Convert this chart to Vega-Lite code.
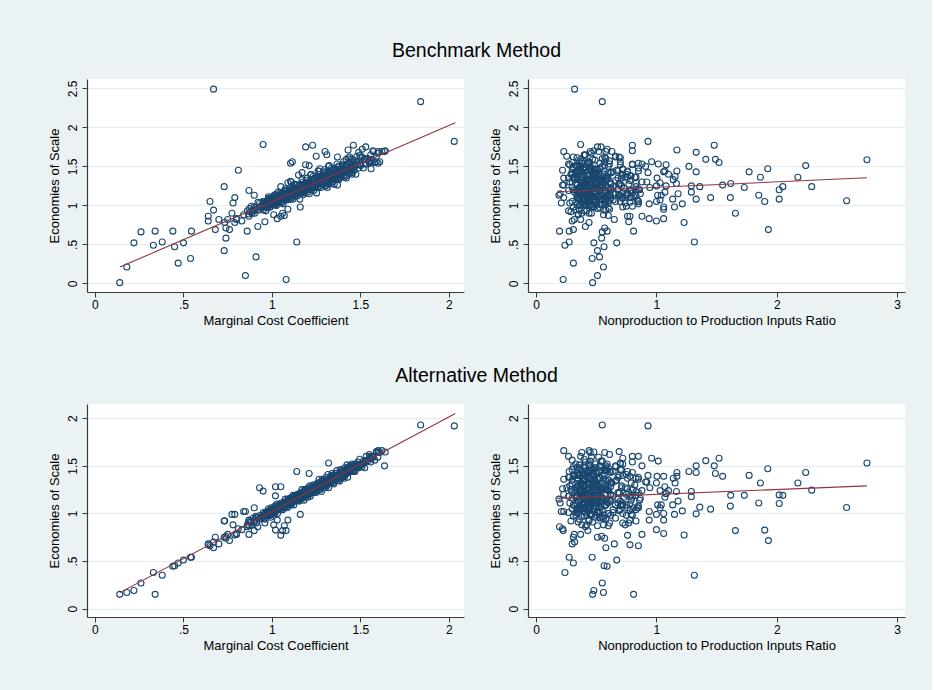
{
  "$schema": "https://vega.github.io/schema/vega-lite/v6.json",
  "background": "#eaf2f3",
  "padding": {"left": 48, "top": 40, "right": 27, "bottom": 42},
  "spacing": 38,
  "data": {
    "values": [
      {"mc":0.14,"r":0.47,"b":0.01,"a":0.15},
      {"mc":0.18,"r":0.56,"b":0.21,"a":0.17},
      {"mc":0.22,"r":0.48,"b":0.52,"a":0.19},
      {"mc":0.26,"r":0.55,"b":0.66,"a":0.27},
      {"mc":0.33,"r":0.24,"b":0.49,"a":0.38},
      {"mc":0.34,"r":0.81,"b":0.67,"a":0.15},
      {"mc":0.38,"r":1.315,"b":0.53,"a":0.35},
      {"mc":0.44,"r":0.59,"b":0.67,"a":0.445},
      {"mc":0.45,"r":0.565,"b":0.47,"a":0.45},
      {"mc":0.47,"r":0.31,"b":0.26,"a":0.48},
      {"mc":0.50,"r":0.67,"b":0.52,"a":0.51},
      {"mc":0.54,"r":0.466,"b":0.32,"a":0.54},
      {"mc":0.545,"r":0.275,"b":0.67,"a":0.54},
      {"mc":0.64,"r":0.78,"b":0.86,"a":0.67},
      {"mc":0.64,"r":0.30,"b":0.80,"a":0.68},
      {"mc":0.65,"r":0.85,"b":1.05,"a":0.66},
      {"mc":0.67,"r":0.58,"b":0.94,"a":0.64},
      {"mc":0.70,"r":0.65,"b":0.82,"a":0.68},
      {"mc":0.68,"r":0.31,"b":0.69,"a":0.75},
      {"mc":0.73,"r":0.83,"b":1.24,"a":0.92},
      {"mc":0.74,"r":0.57,"b":0.71,"a":0.74},
      {"mc":0.76,"r":1.93,"b":0.69,"a":0.715},
      {"mc":0.74,"r":0.545,"b":0.58,"a":0.76},
      {"mc":0.73,"r":0.51,"b":0.42,"a":0.75},
      {"mc":0.75,"r":0.317,"b":0.82,"a":0.78},
      {"mc":0.79,"r":1.23,"b":0.78,"a":0.774},
      {"mc":0.80,"r":0.37,"b":0.82,"a":0.78},
      {"mc":0.79,"r":0.79,"b":1.10,"a":0.99},
      {"mc":0.78,"r":0.74,"b":1.03,"a":0.88},
      {"mc":0.81,"r":0.22,"b":1.45,"a":0.84},
      {"mc":0.83,"r":1.0,"b":0.80,"a":0.83},
      {"mc":0.86,"r":0.195,"b":0.67,"a":0.86},
      {"mc":0.87,"r":0.78,"b":1.19,"a":0.93},
      {"mc":0.90,"r":0.43,"b":1.13,"a":0.82},
      {"mc":0.95,"r":0.37,"b":1.78,"a":1.235},
      {"mc":0.92,"r":0.41,"b":0.73,"a":0.86},
      {"mc":0.96,"r":0.77,"b":0.79,"a":0.90},
      {"mc":1.05,"r":0.76,"b":0.86,"a":0.77},
      {"mc":0.91,"r":0.527,"b":0.34,"a":0.96},
      {"mc":0.85,"r":0.51,"b":0.10,"a":1.02},
      {"mc":1.08,"r":0.225,"b":0.05,"a":0.82},
      {"mc":1.14,"r":0.275,"b":0.53,"a":1.44},
      {"mc":0.67,"r":0.32,"b":2.49,"a":0.70},
      {"mc":1.84,"r":0.55,"b":2.33,"a":1.93},
      {"mc":2.03,"r":0.93,"b":1.82,"a":1.92},
      {"mc":0.93,"r":0.60,"b":1.03,"a":1.27},
      {"mc":1.07,"r":0.60,"b":0.87,"a":0.87},
      {"mc":1.09,"r":1.06,"b":0.95,"a":0.93},
      {"mc":1.16,"r":1.15,"b":0.98,"a":0.99},
      {"mc":1.06,"r":1.656,"b":0.90,"a":0.82},
      {"mc":1.02,"r":1.90,"b":1.05,"a":0.825},
      {"mc":1.03,"r":0.94,"b":0.83,"a":0.93},
      {"mc":0.87,"r":0.88,"b":0.86,"a":0.78},
      {"mc":1.01,"r":0.56,"b":0.88,"a":0.88},
      {"mc":1.32,"r":0.70,"b":1.27,"a":1.53},
      {"mc":1.21,"r":0.47,"b":1.26,"a":1.42},
      {"mc":1.02,"r":0.45,"b":1.13,"a":1.185},
      {"mc":1.02,"r":0.52,"b":1.14,"a":1.28},
      {"mc":1.05,"r":0.62,"b":1.12,"a":1.28},
      {"mc":0.90,"r":0.40,"b":0.93,"a":1.06},
      {"mc":0.84,"r":0.35,"b":0.88,"a":1.02},
      {"mc":0.774,"r":0.46,"b":0.90,"a":0.99},
      {"mc":0.733,"r":0.44,"b":0.78,"a":0.922},
      {"mc":1.52,"r":2.749,"b":1.585,"a":1.53},
      {"mc":1.04,"r":2.58,"b":1.06,"a":1.063},
      {"mc":1.22,"r":2.29,"b":1.24,"a":1.245},
      {"mc":1.42,"r":2.24,"b":1.51,"a":1.43},
      {"mc":1.31,"r":2.175,"b":1.36,"a":1.32},
      {"mc":1.17,"r":2.05,"b":1.24,"a":1.19},
      {"mc":1.18,"r":2.02,"b":1.20,"a":1.195},
      {"mc":1.09,"r":2.02,"b":1.08,"a":1.105},
      {"mc":1.45,"r":1.925,"b":1.47,"a":1.47},
      {"mc":1.30,"r":1.864,"b":1.36,"a":1.32},
      {"mc":1.10,"r":1.85,"b":1.13,"a":1.11},
      {"mc":1.38,"r":1.77,"b":1.43,"a":1.40},
      {"mc":1.18,"r":1.73,"b":1.23,"a":1.19},
      {"mc":1.19,"r":1.617,"b":1.28,"a":1.19},
      {"mc":1.06,"r":1.614,"b":1.10,"a":1.077},
      {"mc":1.37,"r":1.55,"b":1.26,"a":1.39},
      {"mc":1.56,"r":1.52,"b":1.55,"a":1.58},
      {"mc":1.42,"r":1.49,"b":1.59,"a":1.42},
      {"mc":1.46,"r":1.48,"b":1.77,"a":1.50},
      {"mc":1.03,"r":1.45,"b":1.10,"a":1.045},
      {"mc":1.53,"r":1.41,"b":1.59,"a":1.555},
      {"mc":1.05,"r":1.36,"b":1.24,"a":1.066},
      {"mc":1.49,"r":1.33,"b":1.68,"a":1.50},
      {"mc":1.41,"r":1.33,"b":1.43,"a":1.43},
      {"mc":0.99,"r":1.33,"b":1.08,"a":0.996},
      {"mc":1.21,"r":1.29,"b":1.25,"a":1.23},
      {"mc":1.16,"r":1.29,"b":1.17,"a":1.175},
      {"mc":1.42,"r":1.27,"b":1.50,"a":1.44},
      {"mc":1.01,"r":1.215,"b":1.02,"a":1.027},
      {"mc":1.11,"r":1.18,"b":1.15,"a":1.13},
      {"mc":1.43,"r":1.17,"b":1.71,"a":1.43},
      {"mc":1.37,"r":1.17,"b":1.44,"a":1.39},
      {"mc":1.21,"r":1.166,"b":1.28,"a":1.23},
      {"mc":1.07,"r":1.135,"b":1.08,"a":1.09},
      {"mc":1.30,"r":1.155,"b":1.37,"a":1.32},
      {"mc":1.35,"r":1.14,"b":1.33,"a":1.37},
      {"mc":1.22,"r":1.10,"b":1.40,"a":1.24},
      {"mc":1.19,"r":1.08,"b":1.52,"a":1.21},
      {"mc":1.19,"r":1.08,"b":1.25,"a":1.21},
      {"mc":1.26,"r":1.07,"b":1.44,"a":1.28},
      {"mc":1.15,"r":1.07,"b":1.17,"a":1.17},
      {"mc":1.38,"r":1.06,"b":1.43,"a":1.39},
      {"mc":0.99,"r":1.06,"b":0.98,"a":1.0},
      {"mc":0.80,"r":1.06,"b":0.83,"a":0.79},
      {"mc":1.08,"r":1.04,"b":1.13,"a":1.09},
      {"mc":1.04,"r":1.03,"b":1.07,"a":1.06},
      {"mc":1.22,"r":1.03,"b":1.29,"a":1.24},
      {"mc":1.53,"r":1.015,"b":1.53,"a":1.55},
      {"mc":1.37,"r":1.005,"b":1.35,"a":1.39},
      {"mc":0.98,"r":1.0,"b":1.05,"a":0.99},
      {"mc":1.30,"r":1.0,"b":1.25,"a":1.32},
      {"mc":1.08,"r":1.01,"b":1.13,"a":1.09},
      {"mc":1.55,"r":0.96,"b":1.56,"a":1.58},
      {"mc":1.0,"r":0.94,"b":1.02,"a":1.02},
      {"mc":1.25,"r":0.945,"b":1.23,"a":1.27},
      {"mc":1.38,"r":0.93,"b":1.42,"a":1.40},
      {"mc":1.32,"r":0.91,"b":1.50,"a":1.33},
      {"mc":1.31,"r":0.92,"b":1.30,"a":1.33},
      {"mc":1.50,"r":0.88,"b":1.53,"a":1.50},
      {"mc":1.14,"r":0.866,"b":1.15,"a":1.16},
      {"mc":1.06,"r":0.85,"b":1.05,"a":1.08},
      {"mc":1.19,"r":0.51,"b":1.75,"a":1.22},
      {"mc":1.23,"r":0.80,"b":1.77,"a":1.25},
      {"mc":1.53,"r":0.54,"b":1.75,"a":1.55},
      {"mc":1.51,"r":0.59,"b":1.72,"a":1.52},
      {"mc":1.30,"r":0.63,"b":1.69,"a":1.32},
      {"mc":1.57,"r":0.80,"b":1.70,"a":1.60},
      {"mc":1.60,"r":0.45,"b":1.69,"a":1.64},
      {"mc":1.31,"r":0.40,"b":1.65,"a":1.35},
      {"mc":1.25,"r":0.255,"b":1.63,"a":1.27},
      {"mc":1.37,"r":0.31,"b":1.62,"a":1.40},
      {"mc":1.48,"r":0.66,"b":1.63,"a":1.50},
      {"mc":1.50,"r":0.70,"b":1.61,"a":1.52},
      {"mc":1.115,"r":0.70,"b":1.56,"a":1.13},
      {"mc":1.105,"r":0.53,"b":1.54,"a":1.12},
      {"mc":1.64,"r":0.48,"b":1.70,"a":1.645},
      {"mc":1.636,"r":0.58,"b":1.69,"a":1.50},
      {"mc":1.55,"r":0.61,"b":1.57,"a":1.62},
      {"mc":1.56,"r":0.72,"b":1.47,"a":1.58},
      {"mc":1.60,"r":0.44,"b":1.54,"a":1.66},
      {"mc":1.59,"r":0.38,"b":1.56,"a":1.64},
      {"mc":1.44,"r":0.57,"b":1.62,"a":1.46},
      {"mc":1.21,"r":0.36,"b":1.51,"a":1.24},
      {"mc":1.27,"r":0.49,"b":1.47,"a":1.30},
      {"mc":1.17,"r":0.62,"b":1.42,"a":1.20},
      {"mc":1.15,"r":0.33,"b":1.39,"a":1.17},
      {"mc":1.105,"r":0.46,"b":1.31,"a":1.13},
      {"mc":1.09,"r":0.39,"b":1.29,"a":1.11},
      {"mc":1.11,"r":0.55,"b":1.30,"a":1.14},
      {"mc":0.861,"r":0.42,"b":0.93,"a":0.88},
      {"mc":0.868,"r":0.35,"b":0.89,"a":0.91},
      {"mc":0.872,"r":0.51,"b":0.96,"a":0.87},
      {"mc":0.879,"r":0.29,"b":0.92,"a":0.92},
      {"mc":0.884,"r":0.47,"b":0.99,"a":0.91},
      {"mc":0.887,"r":0.38,"b":0.90,"a":0.88},
      {"mc":0.893,"r":0.56,"b":0.94,"a":0.95},
      {"mc":0.898,"r":0.72,"b":0.98,"a":0.90},
      {"mc":0.902,"r":0.44,"b":0.90,"a":0.93},
      {"mc":0.909,"r":0.31,"b":0.98,"a":0.97},
      {"mc":0.913,"r":0.61,"b":0.95,"a":0.90},
      {"mc":0.921,"r":0.49,"b":1.04,"a":0.96},
      {"mc":0.926,"r":0.36,"b":0.94,"a":0.94},
      {"mc":0.934,"r":0.80,"b":0.99,"a":0.98},
      {"mc":0.941,"r":0.53,"b":0.97,"a":0.95},
      {"mc":0.948,"r":0.40,"b":1.05,"a":0.97},
      {"mc":0.952,"r":0.33,"b":0.94,"a":1.01},
      {"mc":0.955,"r":0.66,"b":1.05,"a":0.95},
      {"mc":0.959,"r":0.45,"b":1.00,"a":0.99},
      {"mc":0.963,"r":0.58,"b":1.03,"a":0.94},
      {"mc":0.966,"r":0.27,"b":0.93,"a":1.01},
      {"mc":0.970,"r":0.50,"b":1.05,"a":0.98},
      {"mc":0.973,"r":0.39,"b":1.02,"a":1.02},
      {"mc":0.977,"r":0.75,"b":0.99,"a":0.98},
      {"mc":0.980,"r":0.43,"b":1.11,"a":1.05},
      {"mc":0.984,"r":0.34,"b":1.01,"a":1.01},
      {"mc":0.987,"r":0.62,"b":1.09,"a":0.98},
      {"mc":0.990,"r":0.48,"b":0.98,"a":1.02},
      {"mc":0.993,"r":0.55,"b":1.07,"a":0.96},
      {"mc":0.996,"r":0.85,"b":1.02,"a":1.06},
      {"mc":0.999,"r":0.41,"b":1.07,"a":1.01},
      {"mc":1.002,"r":0.37,"b":1.01,"a":1.05},
      {"mc":1.005,"r":0.52,"b":1.11,"a":1.00},
      {"mc":1.008,"r":0.30,"b":1.05,"a":1.05},
      {"mc":1.012,"r":0.69,"b":1.13,"a":1.03},
      {"mc":1.015,"r":0.46,"b":1.01,"a":1.00},
      {"mc":1.018,"r":0.57,"b":1.07,"a":1.08},
      {"mc":1.021,"r":0.23,"b":1.10,"a":1.02},
      {"mc":1.025,"r":0.44,"b":1.00,"a":1.06},
      {"mc":1.028,"r":0.78,"b":1.10,"a":1.10},
      {"mc":1.031,"r":0.60,"b":1.06,"a":1.00},
      {"mc":1.035,"r":0.32,"b":1.17,"a":1.08},
      {"mc":1.038,"r":0.48,"b":1.04,"a":1.05},
      {"mc":1.041,"r":0.71,"b":1.10,"a":1.09},
      {"mc":1.045,"r":0.39,"b":1.07,"a":1.05},
      {"mc":1.048,"r":0.54,"b":1.16,"a":1.07},
      {"mc":1.051,"r":0.28,"b":1.03,"a":1.11},
      {"mc":1.054,"r":0.64,"b":1.15,"a":1.04},
      {"mc":1.057,"r":0.43,"b":1.09,"a":1.09},
      {"mc":1.060,"r":0.83,"b":1.13,"a":1.04},
      {"mc":1.063,"r":0.50,"b":1.02,"a":1.10},
      {"mc":1.066,"r":0.36,"b":1.15,"a":1.08},
      {"mc":1.069,"r":0.59,"b":1.12,"a":1.12},
      {"mc":1.072,"r":0.45,"b":1.08,"a":1.07},
      {"mc":1.075,"r":0.68,"b":1.21,"a":1.15},
      {"mc":1.078,"r":0.34,"b":1.10,"a":1.10},
      {"mc":1.081,"r":0.52,"b":1.19,"a":1.07},
      {"mc":1.084,"r":0.40,"b":1.07,"a":1.11},
      {"mc":1.087,"r":0.76,"b":1.16,"a":1.06},
      {"mc":1.090,"r":0.47,"b":1.11,"a":1.15},
      {"mc":1.093,"r":0.72,"b":1.16,"a":1.10},
      {"mc":1.096,"r":0.44,"b":1.10,"a":1.15},
      {"mc":1.099,"r":0.31,"b":1.20,"a":1.09},
      {"mc":1.102,"r":0.61,"b":1.14,"a":1.14},
      {"mc":1.105,"r":0.49,"b":1.23,"a":1.13},
      {"mc":1.108,"r":0.36,"b":1.09,"a":1.09},
      {"mc":1.111,"r":0.80,"b":1.16,"a":1.17},
      {"mc":1.114,"r":0.53,"b":1.20,"a":1.11},
      {"mc":1.117,"r":0.40,"b":1.08,"a":1.15},
      {"mc":1.120,"r":0.33,"b":1.20,"a":1.19},
      {"mc":1.123,"r":0.66,"b":1.15,"a":1.09},
      {"mc":1.126,"r":0.45,"b":1.27,"a":1.17},
      {"mc":1.129,"r":0.58,"b":1.12,"a":1.14},
      {"mc":1.132,"r":0.27,"b":1.19,"a":1.18},
      {"mc":1.136,"r":0.50,"b":1.15,"a":1.14},
      {"mc":1.140,"r":0.39,"b":1.26,"a":1.16},
      {"mc":1.144,"r":0.75,"b":1.12,"a":1.20},
      {"mc":1.148,"r":0.43,"b":1.24,"a":1.14},
      {"mc":1.151,"r":0.34,"b":1.18,"a":1.18},
      {"mc":1.154,"r":0.62,"b":1.22,"a":1.13},
      {"mc":1.157,"r":0.48,"b":1.08,"a":1.20},
      {"mc":1.160,"r":0.55,"b":1.26,"a":1.17},
      {"mc":1.163,"r":0.85,"b":1.21,"a":1.22},
      {"mc":1.166,"r":0.41,"b":1.16,"a":1.16},
      {"mc":1.169,"r":0.37,"b":1.33,"a":1.25},
      {"mc":1.172,"r":0.52,"b":1.19,"a":1.19},
      {"mc":1.175,"r":0.30,"b":1.30,"a":1.16},
      {"mc":1.178,"r":0.69,"b":1.14,"a":1.21},
      {"mc":1.181,"r":0.46,"b":1.26,"a":1.14},
      {"mc":1.184,"r":0.57,"b":1.19,"a":1.25},
      {"mc":1.187,"r":0.23,"b":1.26,"a":1.20},
      {"mc":1.190,"r":0.44,"b":1.18,"a":1.25},
      {"mc":1.193,"r":0.78,"b":1.32,"a":1.18},
      {"mc":1.196,"r":0.60,"b":1.23,"a":1.24},
      {"mc":1.199,"r":0.32,"b":1.35,"a":1.22},
      {"mc":1.202,"r":0.48,"b":1.17,"a":1.17},
      {"mc":1.205,"r":0.71,"b":1.25,"a":1.27},
      {"mc":1.208,"r":0.39,"b":1.30,"a":1.20},
      {"mc":1.211,"r":0.54,"b":1.15,"a":1.24},
      {"mc":1.214,"r":0.28,"b":1.30,"a":1.29},
      {"mc":1.217,"r":0.64,"b":1.24,"a":1.18},
      {"mc":1.220,"r":0.43,"b":1.39,"a":1.26},
      {"mc":1.223,"r":0.83,"b":1.20,"a":1.23},
      {"mc":1.226,"r":0.50,"b":1.28,"a":1.28},
      {"mc":1.229,"r":0.36,"b":1.23,"a":1.23},
      {"mc":1.232,"r":0.59,"b":1.37,"a":1.25},
      {"mc":1.236,"r":0.45,"b":1.19,"a":1.30},
      {"mc":1.240,"r":0.68,"b":1.35,"a":1.22},
      {"mc":1.244,"r":0.34,"b":1.28,"a":1.28},
      {"mc":1.248,"r":0.52,"b":1.32,"a":1.22},
      {"mc":1.252,"r":0.40,"b":1.16,"a":1.30},
      {"mc":1.255,"r":0.76,"b":1.36,"a":1.26},
      {"mc":1.259,"r":0.47,"b":1.30,"a":1.32},
      {"mc":1.262,"r":0.42,"b":1.24,"a":1.25},
      {"mc":1.266,"r":0.35,"b":1.44,"a":1.36},
      {"mc":1.269,"r":0.51,"b":1.28,"a":1.29},
      {"mc":1.272,"r":0.29,"b":1.40,"a":1.25},
      {"mc":1.276,"r":0.47,"b":1.23,"a":1.31},
      {"mc":1.279,"r":0.38,"b":1.37,"a":1.23},
      {"mc":1.283,"r":0.56,"b":1.28,"a":1.36},
      {"mc":1.286,"r":0.53,"b":1.36,"a":1.29},
      {"mc":1.289,"r":0.40,"b":1.27,"a":1.35},
      {"mc":1.293,"r":0.33,"b":1.42,"a":1.27},
      {"mc":1.296,"r":0.66,"b":1.32,"a":1.34},
      {"mc":1.300,"r":0.45,"b":1.46,"a":1.32},
      {"mc":1.303,"r":0.58,"b":1.25,"a":1.27},
      {"mc":1.306,"r":0.27,"b":1.35,"a":1.38},
      {"mc":1.310,"r":0.50,"b":1.41,"a":1.30},
      {"mc":1.313,"r":0.39,"b":1.23,"a":1.35},
      {"mc":1.316,"r":0.75,"b":1.40,"a":1.41},
      {"mc":1.320,"r":0.43,"b":1.33,"a":1.27},
      {"mc":1.323,"r":0.34,"b":1.51,"a":1.37},
      {"mc":1.327,"r":0.62,"b":1.29,"a":1.33},
      {"mc":1.330,"r":0.48,"b":1.39,"a":1.39},
      {"mc":1.333,"r":0.55,"b":1.33,"a":1.32},
      {"mc":1.337,"r":0.85,"b":1.48,"a":1.36},
      {"mc":1.340,"r":0.41,"b":1.28,"a":1.42},
      {"mc":1.343,"r":0.37,"b":1.46,"a":1.32},
      {"mc":1.346,"r":0.52,"b":1.37,"a":1.38},
      {"mc":1.349,"r":0.30,"b":1.42,"a":1.31},
      {"mc":1.352,"r":0.69,"b":1.27,"a":1.40},
      {"mc":1.356,"r":0.46,"b":1.45,"a":1.36},
      {"mc":1.360,"r":0.57,"b":1.40,"a":1.42},
      {"mc":1.363,"r":0.23,"b":1.35,"a":1.36},
      {"mc":1.367,"r":0.44,"b":1.53,"a":1.45},
      {"mc":1.371,"r":0.78,"b":1.38,"a":1.39},
      {"mc":1.375,"r":0.60,"b":1.50,"a":1.35},
      {"mc":1.378,"r":0.32,"b":1.33,"a":1.41},
      {"mc":1.382,"r":0.48,"b":1.46,"a":1.34},
      {"mc":1.386,"r":0.71,"b":1.38,"a":1.46},
      {"mc":1.390,"r":0.39,"b":1.46,"a":1.40},
      {"mc":1.393,"r":0.54,"b":1.38,"a":1.45},
      {"mc":1.397,"r":0.28,"b":1.52,"a":1.38},
      {"mc":1.401,"r":0.64,"b":1.43,"a":1.44},
      {"mc":1.405,"r":0.43,"b":1.56,"a":1.42},
      {"mc":1.408,"r":0.83,"b":1.36,"a":1.37},
      {"mc":1.412,"r":0.50,"b":1.45,"a":1.48},
      {"mc":1.416,"r":0.36,"b":1.51,"a":1.41},
      {"mc":1.420,"r":0.59,"b":1.35,"a":1.45},
      {"mc":1.424,"r":0.45,"b":1.50,"a":1.51},
      {"mc":1.428,"r":0.68,"b":1.44,"a":1.38},
      {"mc":1.432,"r":0.34,"b":1.61,"a":1.48},
      {"mc":1.436,"r":0.52,"b":1.41,"a":1.44},
      {"mc":1.440,"r":0.40,"b":1.49,"a":1.50},
      {"mc":1.444,"r":0.76,"b":1.44,"a":1.44},
      {"mc":1.448,"r":0.47,"b":1.59,"a":1.47},
      {"mc":1.452,"r":0.72,"b":1.40,"a":1.52},
      {"mc":1.458,"r":0.44,"b":1.55,"a":1.44},
      {"mc":1.463,"r":0.31,"b":1.49,"a":1.49},
      {"mc":1.468,"r":0.61,"b":1.53,"a":1.44},
      {"mc":1.474,"r":0.49,"b":1.40,"a":1.52},
      {"mc":1.479,"r":0.36,"b":1.56,"a":1.48},
      {"mc":1.485,"r":0.80,"b":1.52,"a":1.54},
      {"mc":1.490,"r":0.53,"b":1.48,"a":1.48},
      {"mc":1.496,"r":0.40,"b":1.64,"a":1.57},
      {"mc":1.502,"r":0.33,"b":1.51,"a":1.52},
      {"mc":1.509,"r":0.66,"b":1.62,"a":1.49},
      {"mc":1.516,"r":0.45,"b":1.48,"a":1.55},
      {"mc":1.524,"r":0.58,"b":1.60,"a":1.48},
      {"mc":1.533,"r":0.27,"b":1.53,"a":1.60},
      {"mc":1.542,"r":0.55,"b":1.60,"a":1.55},
      {"mc":1.551,"r":0.85,"b":1.54,"a":1.60},
      {"mc":1.558,"r":0.41,"b":1.65,"a":1.54},
      {"mc":1.566,"r":0.37,"b":1.59,"a":1.60},
      {"mc":1.573,"r":0.52,"b":1.69,"a":1.59},
      {"mc":1.581,"r":0.30,"b":1.55,"a":1.56},
      {"mc":1.590,"r":0.69,"b":1.62,"a":1.65},
      {"mc":1.598,"r":0.46,"b":1.67,"a":1.59},
      {"mc":1.609,"r":0.57,"b":1.56,"a":1.64},
      {"mc":1.621,"r":0.23,"b":1.69,"a":1.66},
      {"mc":0.957,"r":0.46,"b":0.98,"a":0.99},
      {"mc":0.961,"r":0.38,"b":1.05,"a":0.97},
      {"mc":0.965,"r":0.53,"b":1.01,"a":1.01},
      {"mc":0.969,"r":0.33,"b":1.04,"a":0.98},
      {"mc":0.973,"r":0.60,"b":0.97,"a":1.00},
      {"mc":0.977,"r":0.42,"b":1.04,"a":0.98},
      {"mc":0.981,"r":0.72,"b":1.09,"a":1.00},
      {"mc":0.985,"r":0.36,"b":1.00,"a":1.03},
      {"mc":0.989,"r":0.57,"b":1.04,"a":0.98},
      {"mc":0.993,"r":0.44,"b":1.07,"a":1.03},
      {"mc":0.997,"r":0.21,"b":1.03,"a":1.02},
      {"mc":1.001,"r":0.51,"b":1.10,"a":1.01},
      {"mc":1.005,"r":0.40,"b":1.01,"a":1.05},
      {"mc":1.009,"r":0.64,"b":1.07,"a":1.01},
      {"mc":1.013,"r":0.78,"b":1.04,"a":1.03},
      {"mc":1.017,"r":0.35,"b":1.09,"a":1.05},
      {"mc":1.021,"r":0.55,"b":1.01,"a":1.04},
      {"mc":1.025,"r":0.43,"b":1.09,"a":1.07},
      {"mc":1.029,"r":0.70,"b":1.12,"a":1.04},
      {"mc":1.033,"r":0.84,"b":1.07,"a":1.06},
      {"mc":1.037,"r":0.50,"b":1.06,"a":1.07},
      {"mc":1.041,"r":0.34,"b":1.13,"a":1.05},
      {"mc":1.045,"r":0.58,"b":1.08,"a":1.09},
      {"mc":1.049,"r":0.45,"b":1.12,"a":1.06},
      {"mc":1.053,"r":0.70,"b":1.05,"a":1.08},
      {"mc":1.057,"r":0.37,"b":1.12,"a":1.06},
      {"mc":1.061,"r":0.48,"b":1.16,"a":1.08},
      {"mc":1.065,"r":0.41,"b":1.08,"a":1.11},
      {"mc":1.069,"r":0.81,"b":1.12,"a":1.06},
      {"mc":1.073,"r":0.20,"b":1.15,"a":1.11},
      {"mc":1.077,"r":0.46,"b":1.11,"a":1.10},
      {"mc":1.081,"r":0.38,"b":1.18,"a":1.09},
      {"mc":1.085,"r":0.53,"b":1.09,"a":1.13},
      {"mc":1.089,"r":0.75,"b":1.14,"a":1.09},
      {"mc":1.093,"r":0.60,"b":1.12,"a":1.11},
      {"mc":1.097,"r":0.42,"b":1.17,"a":1.13},
      {"mc":1.101,"r":0.49,"b":1.08,"a":1.11},
      {"mc":1.105,"r":0.36,"b":1.17,"a":1.16},
      {"mc":1.109,"r":0.68,"b":1.20,"a":1.11},
      {"mc":1.113,"r":0.44,"b":1.15,"a":1.14},
      {"mc":1.117,"r":0.19,"b":1.13,"a":1.15},
      {"mc":1.121,"r":0.51,"b":1.22,"a":1.13},
      {"mc":1.125,"r":0.40,"b":1.16,"a":1.18},
      {"mc":1.129,"r":0.86,"b":1.20,"a":1.14},
      {"mc":1.133,"r":0.47,"b":1.12,"a":1.16},
      {"mc":1.137,"r":0.35,"b":1.20,"a":1.13},
      {"mc":1.141,"r":0.55,"b":1.26,"a":1.16},
      {"mc":1.145,"r":0.43,"b":1.15,"a":1.19},
      {"mc":1.149,"r":0.79,"b":1.19,"a":1.14},
      {"mc":1.153,"r":0.39,"b":1.24,"a":1.19},
      {"mc":1.157,"r":0.50,"b":1.18,"a":1.19},
      {"mc":1.161,"r":0.34,"b":1.27,"a":1.17},
      {"mc":1.165,"r":0.58,"b":1.16,"a":1.21},
      {"mc":1.169,"r":0.73,"b":1.22,"a":1.17},
      {"mc":1.173,"r":0.62,"b":1.19,"a":1.19},
      {"mc":1.177,"r":0.37,"b":1.25,"a":1.21},
      {"mc":1.181,"r":0.48,"b":1.16,"a":1.19},
      {"mc":1.185,"r":0.41,"b":1.25,"a":1.24},
      {"mc":1.189,"r":0.83,"b":1.28,"a":1.19},
      {"mc":1.193,"r":0.30,"b":1.23,"a":1.22},
      {"mc":1.197,"r":0.46,"b":1.21,"a":1.23},
      {"mc":1.201,"r":0.38,"b":1.29,"a":1.21},
      {"mc":1.205,"r":0.53,"b":1.24,"a":1.26},
      {"mc":1.209,"r":0.69,"b":1.28,"a":1.22},
      {"mc":1.213,"r":0.60,"b":1.20,"a":1.24},
      {"mc":1.217,"r":0.42,"b":1.28,"a":1.21},
      {"mc":1.221,"r":0.49,"b":1.33,"a":1.24},
      {"mc":1.225,"r":0.36,"b":1.23,"a":1.27},
      {"mc":1.229,"r":0.77,"b":1.27,"a":1.22},
      {"mc":1.233,"r":0.44,"b":1.32,"a":1.27},
      {"mc":1.237,"r":0.22,"b":1.26,"a":1.26},
      {"mc":1.241,"r":0.51,"b":1.34,"a":1.24},
      {"mc":1.245,"r":0.40,"b":1.24,"a":1.29},
      {"mc":1.249,"r":0.88,"b":1.30,"a":1.24},
      {"mc":1.253,"r":0.47,"b":1.27,"a":1.27},
      {"mc":1.257,"r":0.35,"b":1.33,"a":1.29},
      {"mc":1.261,"r":0.55,"b":1.23,"a":1.27},
      {"mc":1.265,"r":0.43,"b":1.33,"a":1.32},
      {"mc":1.269,"r":0.74,"b":1.36,"a":1.27},
      {"mc":1.273,"r":0.39,"b":1.30,"a":1.30},
      {"mc":1.277,"r":0.50,"b":1.29,"a":1.31},
      {"mc":1.281,"r":0.34,"b":1.37,"a":1.28},
      {"mc":1.285,"r":0.58,"b":1.32,"a":1.34},
      {"mc":1.289,"r":0.82,"b":1.36,"a":1.30},
      {"mc":1.293,"r":0.62,"b":1.27,"a":1.32},
      {"mc":1.297,"r":0.37,"b":1.36,"a":1.29},
      {"mc":1.301,"r":0.48,"b":1.43,"a":1.32},
      {"mc":1.305,"r":0.41,"b":1.30,"a":1.35},
      {"mc":1.309,"r":0.71,"b":1.35,"a":1.29},
      {"mc":1.313,"r":0.30,"b":1.40,"a":1.35},
      {"mc":1.317,"r":0.46,"b":1.33,"a":1.35},
      {"mc":1.321,"r":0.38,"b":1.43,"a":1.32},
      {"mc":1.325,"r":0.53,"b":1.31,"a":1.37},
      {"mc":1.329,"r":0.79,"b":1.38,"a":1.32},
      {"mc":1.333,"r":0.60,"b":1.34,"a":1.35},
      {"mc":1.337,"r":0.42,"b":1.41,"a":1.38},
      {"mc":1.341,"r":0.49,"b":1.30,"a":1.35},
      {"mc":1.345,"r":0.36,"b":1.41,"a":1.40},
      {"mc":1.349,"r":0.67,"b":1.45,"a":1.35},
      {"mc":1.353,"r":0.44,"b":1.38,"a":1.38},
      {"mc":1.357,"r":0.31,"b":1.36,"a":1.39},
      {"mc":1.361,"r":0.51,"b":1.46,"a":1.36},
      {"mc":1.365,"r":0.40,"b":1.39,"a":1.42},
      {"mc":1.369,"r":0.85,"b":1.44,"a":1.38},
      {"mc":1.373,"r":0.47,"b":1.34,"a":1.40},
      {"mc":1.377,"r":0.35,"b":1.44,"a":1.37},
      {"mc":1.381,"r":0.55,"b":1.50,"a":1.40},
      {"mc":1.385,"r":0.43,"b":1.38,"a":1.43},
      {"mc":1.389,"r":0.76,"b":1.43,"a":1.37},
      {"mc":1.393,"r":0.39,"b":1.48,"a":1.43},
      {"mc":1.397,"r":0.50,"b":1.41,"a":1.43},
      {"mc":1.401,"r":0.34,"b":1.51,"a":1.40},
      {"mc":1.405,"r":0.58,"b":1.38,"a":1.45},
      {"mc":1.409,"r":0.72,"b":1.46,"a":1.40},
      {"mc":1.413,"r":0.62,"b":1.42,"a":1.43},
      {"mc":1.417,"r":0.37,"b":1.49,"a":1.46},
      {"mc":1.421,"r":0.48,"b":1.38,"a":1.43},
      {"mc":1.425,"r":0.41,"b":1.49,"a":1.48},
      {"mc":1.429,"r":0.80,"b":1.53,"a":1.43},
      {"mc":1.433,"r":0.30,"b":1.46,"a":1.46},
      {"mc":1.437,"r":0.46,"b":1.44,"a":1.48},
      {"mc":1.441,"r":0.38,"b":1.54,"a":1.44},
      {"mc":1.445,"r":0.53,"b":1.47,"a":1.50},
      {"mc":1.449,"r":0.70,"b":1.52,"a":1.46},
      {"mc":1.453,"r":0.60,"b":1.42,"a":1.48},
      {"mc":1.457,"r":0.42,"b":1.52,"a":1.45},
      {"mc":1.461,"r":0.49,"b":1.58,"a":1.48},
      {"mc":1.465,"r":0.36,"b":1.45,"a":1.51},
      {"mc":1.469,"r":0.57,"b":1.51,"a":1.45},
      {"mc":1.473,"r":0.44,"b":1.56,"a":1.51}
    ]
  },
  "vconcat": [
    {
      "title": {"text": "Benchmark Method"},
      "spacing": 25,
      "hconcat": [
        {
          "width": 377, "height": 213,
          "layer": [
            {
              "mark": {"type": "point", "shape": "circle", "filled": false, "color": "#1a476f", "size": 36, "strokeWidth": 1.1, "opacity": 1},
              "encoding": {
                "x": {"field": "mc", "type": "quantitative", "title": "Marginal Cost Coefficient",
                      "scale": {"domain": [-0.045, 2.085], "nice": false, "zero": false},
                      "axis": {"values": [0, 0.5, 1, 1.5, 2], "labelExpr": "datum.value == 0.5 ? '.5' : format(datum.value, '~g')"}},
                "y": {"field": "b", "type": "quantitative", "title": "Economies of Scale",
                      "scale": {"domain": [-0.11, 2.62], "nice": false, "zero": false},
                      "axis": {"values": [0, 0.5, 1, 1.5, 2, 2.5], "labelExpr": "datum.value == 0.5 ? '.5' : format(datum.value, '~g')"}}
              }
            },
            {
              "data": {"values": [{"mc": 0.141, "b": 0.21}, {"mc": 2.036, "b": 2.06}]},
              "mark": {"type": "line", "color": "#90353b", "strokeWidth": 1.1},
              "encoding": {
                "x": {"field": "mc", "type": "quantitative", "title": "Marginal Cost Coefficient"},
                "y": {"field": "b", "type": "quantitative", "title": "Economies of Scale"}
              }
            }
          ]
        },
        {
          "width": 377, "height": 213,
          "layer": [
            {
              "mark": {"type": "point", "shape": "circle", "filled": false, "color": "#1a476f", "size": 36, "strokeWidth": 1.1, "opacity": 1},
              "encoding": {
                "x": {"field": "r", "type": "quantitative", "title": "Nonproduction to Production Inputs Ratio",
                      "scale": {"domain": [-0.067, 3.065], "nice": false, "zero": false},
                      "axis": {"values": [0, 1, 2, 3], "labelExpr": "format(datum.value, '~g')"}},
                "y": {"field": "b", "type": "quantitative", "title": "Economies of Scale",
                      "scale": {"domain": [-0.11, 2.62], "nice": false, "zero": false},
                      "axis": {"values": [0, 0.5, 1, 1.5, 2, 2.5], "labelExpr": "datum.value == 0.5 ? '.5' : format(datum.value, '~g')"}}
              }
            },
            {
              "data": {"values": [{"r": 0.175, "b": 1.174}, {"r": 2.749, "b": 1.354}]},
              "mark": {"type": "line", "color": "#90353b", "strokeWidth": 1.1},
              "encoding": {
                "x": {"field": "r", "type": "quantitative", "title": "Nonproduction to Production Inputs Ratio"},
                "y": {"field": "b", "type": "quantitative", "title": "Economies of Scale"}
              }
            }
          ]
        }
      ]
    },
    {
      "title": {"text": "Alternative Method"},
      "spacing": 25,
      "hconcat": [
        {
          "width": 377, "height": 213,
          "layer": [
            {
              "mark": {"type": "point", "shape": "circle", "filled": false, "color": "#1a476f", "size": 36, "strokeWidth": 1.1, "opacity": 1},
              "encoding": {
                "x": {"field": "mc", "type": "quantitative", "title": "Marginal Cost Coefficient",
                      "scale": {"domain": [-0.045, 2.085], "nice": false, "zero": false},
                      "axis": {"values": [0, 0.5, 1, 1.5, 2], "labelExpr": "datum.value == 0.5 ? '.5' : format(datum.value, '~g')"}},
                "y": {"field": "a", "type": "quantitative", "title": "Economies of Scale",
                      "scale": {"domain": [-0.088, 2.15], "nice": false, "zero": false},
                      "axis": {"values": [0, 0.5, 1, 1.5, 2], "labelExpr": "datum.value == 0.5 ? '.5' : format(datum.value, '~g')"}}
              }
            },
            {
              "data": {"values": [{"mc": 0.141, "a": 0.168}, {"mc": 2.036, "a": 2.05}]},
              "mark": {"type": "line", "color": "#90353b", "strokeWidth": 1.1},
              "encoding": {
                "x": {"field": "mc", "type": "quantitative", "title": "Marginal Cost Coefficient"},
                "y": {"field": "a", "type": "quantitative", "title": "Economies of Scale"}
              }
            }
          ]
        },
        {
          "width": 377, "height": 213,
          "layer": [
            {
              "mark": {"type": "point", "shape": "circle", "filled": false, "color": "#1a476f", "size": 36, "strokeWidth": 1.1, "opacity": 1},
              "encoding": {
                "x": {"field": "r", "type": "quantitative", "title": "Nonproduction to Production Inputs Ratio",
                      "scale": {"domain": [-0.067, 3.065], "nice": false, "zero": false},
                      "axis": {"values": [0, 1, 2, 3], "labelExpr": "format(datum.value, '~g')"}},
                "y": {"field": "a", "type": "quantitative", "title": "Economies of Scale",
                      "scale": {"domain": [-0.088, 2.15], "nice": false, "zero": false},
                      "axis": {"values": [0, 0.5, 1, 1.5, 2], "labelExpr": "datum.value == 0.5 ? '.5' : format(datum.value, '~g')"}}
              }
            },
            {
              "data": {"values": [{"r": 0.175, "a": 1.158}, {"r": 2.749, "a": 1.29}]},
              "mark": {"type": "line", "color": "#90353b", "strokeWidth": 1.1},
              "encoding": {
                "x": {"field": "r", "type": "quantitative", "title": "Nonproduction to Production Inputs Ratio"},
                "y": {"field": "a", "type": "quantitative", "title": "Economies of Scale"}
              }
            }
          ]
        }
      ]
    }
  ],
  "config": {
    "font": "Liberation Sans",
    "view": {"fill": "white", "stroke": null},
    "title": {"font": "Liberation Sans", "fontSize": 19.5, "fontWeight": "normal", "color": "#000000", "anchor": "middle", "offset": 18},
    "axis": {
      "labelFont": "Liberation Sans", "titleFont": "Liberation Sans",
      "labelFontSize": 12, "titleFontSize": 13, "titleFontWeight": "normal",
      "labelColor": "#000000", "titleColor": "#000000",
      "domainColor": "#3a3a3a", "tickColor": "#3a3a3a", "domainWidth": 1.2, "tickWidth": 1,
      "tickSize": 5, "labelPadding": 2, "titlePadding": 4
    },
    "axisX": {"grid": false},
    "axisY": {"grid": true, "gridColor": "#e4edf0", "gridWidth": 1, "labelAngle": -90, "labelAlign": "center", "labelBaseline": "bottom", "labelPadding": 3, "titlePadding": 5}
  }
}
